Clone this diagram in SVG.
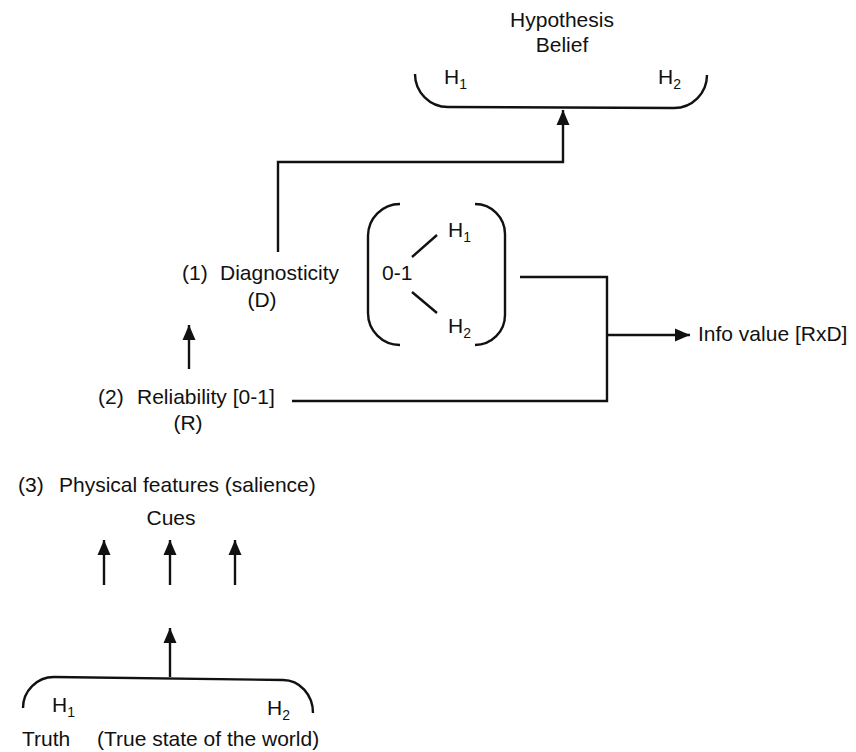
<svg xmlns="http://www.w3.org/2000/svg" width="856" height="752" viewBox="0 0 856 752">
  <style>
    .t { font-family: "Liberation Sans", Arial, sans-serif; font-size: 21px; fill: #111; }
    .c { text-anchor: middle; }
    .ln { fill: none; stroke: #111; stroke-width: 2.4; stroke-linecap: butt; stroke-linejoin: miter; }
    .ar { marker-end: url(#head); }
  </style>
  <defs>
    <marker id="head" markerUnits="userSpaceOnUse" markerWidth="16" markerHeight="14" refX="15" refY="7" orient="auto">
      <path d="M0,0.5 L15,7 L0,13.5 Z" fill="#111"/>
    </marker>
  </defs>
  <rect width="856" height="752" fill="#fff"/>

  <!-- hypothesis belief -->
  <g id="belief">
    <text class="t c" x="562" y="27">Hypothesis</text>
    <text class="t c" x="562" y="52">Belief</text>
    <path class="ln" d="M415,74 A33,33 0 0 0 448,107 L674,108 A33,33 0 0 0 707,75"/>
    <text class="t" x="444" y="84">H<tspan font-size="14" dy="5">1</tspan></text>
    <text class="t" x="658" y="84">H<tspan font-size="14" dy="5">2</tspan></text>
  </g>

  <!-- diagnosticity -->
  <g id="diagnosticity">
    <text class="t" x="182" y="280">(1)</text>
    <text class="t" x="220" y="280">Diagnosticity</text>
    <text class="t c" x="262" y="307">(D)</text>
  </g>

  <!-- diagnosticity range -->
  <g id="range">
    <path class="ln" d="M400,204 A32,32 0 0 0 368,236 L368,313 A32,32 0 0 0 400,345"/>
    <path class="ln" d="M475,204 A30,30 0 0 1 505,234 L505,315 A30,30 0 0 1 475,345"/>
    <text class="t" x="382" y="280">0-1</text>
    <path class="ln" d="M412,257 L437,235 M412,292 L437,313"/>
    <text class="t" x="448" y="237">H<tspan font-size="14" dy="5">1</tspan></text>
    <text class="t" x="448" y="333">H<tspan font-size="14" dy="5">2</tspan></text>
  </g>

  <!-- reliability -->
  <g id="reliability">
    <text class="t" x="98" y="404">(2)</text>
    <text class="t" x="137" y="404">Reliability [0-1]</text>
    <text class="t c" x="188" y="430">(R)</text>
  </g>

  <!-- physical features -->
  <g id="features">
    <text class="t" x="18" y="492">(3)</text>
    <text class="t" x="59" y="492">Physical features (salience)</text>
  </g>

  <g id="cues">
    <text class="t c" x="171" y="525">Cues</text>
  </g>

  <!-- info value -->
  <g id="info">
    <text class="t" x="698" y="341">Info value [RxD]</text>
  </g>

  <!-- truth -->
  <g id="truth">
    <path class="ln" d="M23,708 A31,31 0 0 1 54,677 L283,680 A30,33 0 0 1 313,713"/>
    <text class="t" x="52" y="712">H<tspan font-size="14" dy="5">1</tspan></text>
    <text class="t" x="267" y="715">H<tspan font-size="14" dy="5">2</tspan></text>
    <text class="t" x="22" y="746">Truth</text>
    <text class="t" x="97" y="746">(True state of the world)</text>
  </g>

  <!-- connectors -->
  <g id="connectors">
    <path class="ln ar" d="M278,252 V162 H563 V110"/>
    <path class="ln ar" d="M189,369 V325"/>
    <path class="ln" d="M520,277 H607 V401 H292"/>
    <path class="ln ar" d="M607,335 H690"/>
    <path class="ln ar" d="M104,585 V540"/>
    <path class="ln ar" d="M170,585 V540"/>
    <path class="ln ar" d="M235,585 V540"/>
    <path class="ln ar" d="M170,677 V628"/>
  </g>
</svg>
